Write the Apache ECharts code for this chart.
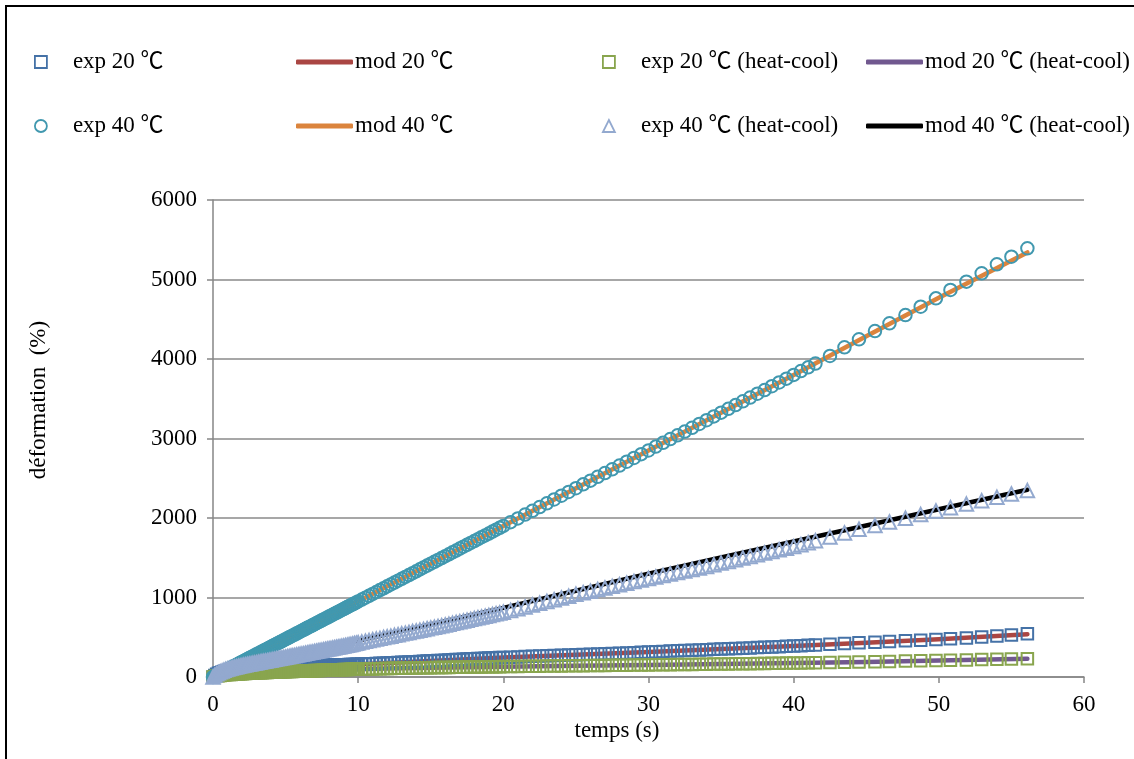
<!DOCTYPE html>
<html><head><meta charset="utf-8">
<script src="https://cdn.jsdelivr.net/npm/echarts@6/dist/echarts.min.js"></script>
<style>html,body{margin:0;padding:0;background:#fff}#c{width:1134px;height:759px}</style>
</head><body><div id="c"></div>
<script>
// time (s) of experimental samples
const T = [
0,0.125,0.25,0.375,0.5,0.625,0.75,0.875,1,1.125,
1.25,1.375,1.5,1.625,1.75,1.875,2,2.125,2.25,2.375,
2.5,2.625,2.75,2.875,3,3.125,3.25,3.375,3.5,3.625,
3.75,3.875,4,4.125,4.25,4.375,4.5,4.625,4.75,4.875,
5,5.125,5.25,5.375,5.5,5.625,5.75,5.875,6,6.125,
6.25,6.375,6.5,6.625,6.75,6.875,7,7.125,7.25,7.375,
7.5,7.625,7.75,7.875,8,8.125,8.25,8.375,8.5,8.625,
8.75,8.875,9,9.125,9.25,9.375,9.5,9.625,9.75,9.875,
10,10.25,10.5,10.75,11,11.25,11.5,11.75,12,12.25,
12.5,12.75,13,13.25,13.5,13.75,14,14.25,14.5,14.75,
15,15.25,15.5,15.75,16,16.25,16.5,16.75,17,17.25,
17.5,17.75,18,18.25,18.5,18.75,19,19.25,19.5,19.75,
20,20.5,21,21.5,22,22.5,23,23.5,24,24.5,
25,25.5,26,26.5,27,27.5,28,28.5,29,29.5,
30,30.5,31,31.5,32,32.5,33,33.5,34,34.5,
35,35.5,36,36.5,37,37.5,38,38.5,39,39.5,
40,40.5,41,41.5,42.5,43.5,44.5,45.6,46.6,47.7,
48.75,49.8,50.8,51.9,52.95,54,55,56.1];
const exp20 = [
0,20,35,46,55,62,68,73,78,82,
85,88,90,92,94,96,98,100,101,102,
103,105,106,107,108,109,110,111,112,113,
114,115,116,117,118,119,120,121,122,123,
124,125,126,127,128,129,130,131,132,133,
134,135,136,137,138,139,140,141,142,142,
143,144,145,146,147,148,149,149,150,151,
152,153,154,154,155,156,157,157,158,159,
160,162,164,166,168,170,172,174,176,178,
180,182,184,186,188,190,192,195,197,200,
202,204,207,209,212,214,216,219,221,223,
225,228,230,232,234,236,238,240,242,244,
246,250,253,257,260,263,267,270,274,277,
280,283,286,289,292,295,298,302,306,310,
314,318,322,326,330,334,337,341,344,348,
351,355,358,362,366,370,374,378,382,386,
390,394,398,402,412,422,430,438,446,455,
463,472,481,491,502,515,528,543];
const exp20hc = [
0,7,12,16,20,23,25,28,30,31,
33,35,36,38,39,41,42,43,45,46,
47,48,50,51,52,53,54,55,56,57,
58,59,60,61,62,63,64,64,65,66,
67,68,69,69,70,71,72,73,74,75,
76,76,77,78,79,80,81,82,83,83,
84,85,86,87,88,88,89,89,90,91,
92,92,93,93,94,95,96,96,97,97,
98,99,100,101,102,104,105,106,107,108,
109,110,111,111,112,113,114,115,116,116,
117,118,119,119,120,121,122,122,123,124,
125,125,126,127,127,128,129,129,130,130,
131,132,133,134,135,136,137,138,139,140,
142,143,144,145,146,147,148,149,150,151,
152,153,154,155,156,157,158,159,160,162,
163,164,166,167,168,170,171,172,173,175,
176,177,178,180,183,186,189,193,196,200,
204,208,211,215,219,223,226,230];
const exp40 = [
0,12,24,36,48,59,71,83,95,107,
119,131,143,154,166,178,190,202,214,226,
238,249,261,273,285,297,309,321,333,344,
356,368,380,392,404,416,428,439,451,463,
475,487,499,511,523,534,546,558,570,582,
594,606,618,629,641,653,665,677,689,701,
713,724,736,748,760,772,784,796,808,819,
831,843,855,867,879,891,903,914,926,938,
950,974,998,1021,1045,1069,1093,1116,1140,1164,
1188,1211,1235,1259,1283,1306,1330,1354,1378,1401,
1425,1449,1473,1496,1520,1544,1568,1591,1615,1639,
1663,1686,1710,1734,1758,1781,1805,1829,1853,1876,
1900,1948,1995,2043,2090,2138,2185,2233,2280,2328,
2375,2423,2470,2518,2565,2613,2660,2708,2755,2803,
2850,2898,2945,2993,3040,3088,3135,3183,3230,3278,
3325,3373,3420,3468,3515,3563,3610,3658,3705,3753,
3800,3848,3895,3943,4038,4147,4248,4352,4449,4553,
4658,4763,4868,4973,5078,5191,5287,5392];
const exp40hc = [
0,22,40,54,65,76,85,93,100,107,
113,119,125,130,135,140,145,150,154,159,
163,168,172,176,180,185,189,194,198,202,
206,211,215,220,224,229,233,237,241,246,
250,255,259,264,268,272,276,281,285,290,
294,299,303,307,311,316,320,325,329,334,
338,342,346,351,355,360,364,369,373,377,
381,386,390,395,400,405,410,415,420,425,
430,439,449,458,468,477,486,496,505,514,
524,533,543,552,561,571,580,589,599,608,
618,627,636,646,655,665,675,685,695,705,
715,725,735,745,755,765,775,785,795,805,
815,837,860,882,905,927,950,972,995,1017,
1040,1060,1080,1100,1120,1140,1160,1180,1200,1220,
1240,1259,1278,1297,1316,1334,1352,1370,1391,1412,
1433,1454,1475,1496,1517,1538,1559,1580,1600,1620,
1640,1665,1690,1715,1760,1812,1858,1905,1950,1997,
2043,2088,2130,2175,2218,2260,2302,2345];
// model curves
const TM = [0,0.25,0.5,1,1.5,2,3,4,6,8,10,12,15,20,25,30,35,40,45,50,56.1];
const mod20   = [0,30,50,72,85,95,107,116,132,147,160,176,202,246,280,314,351,390,432,474,538];
const mod20hc = [0,10,18,28,35,41,51,59,73,87,97,106,117,130,141,151,162,175,190,209,229];
const mod40   = [0,24,48,95,143,190,285,380,570,760,950,1140,1425,1900,2375,2850,3325,3800,4285,4770,5340];
const mod40hc = [0,45,72,110,135,157,195,232,305,380,458,538,660,870,1085,1300,1505,1705,1905,2110,2355];

const names = ['exp 20 ℃','mod 20 ℃','exp 20 ℃ (heat-cool)','mod 20 ℃ (heat-cool)',
               'exp 40 ℃','mod 40 ℃','exp 40 ℃ (heat-cool)','mod 40 ℃ (heat-cool)'];
const xTicks = [0,10,20,30,40,50,60];
const yTicks = [0,1000,2000,3000,4000,5000,6000];
const xTitle = 'temps (s)';
const yTitle = 'déformation  (%)';

const FONT = "'Liberation Serif','Noto Sans CJK SC',serif";
const FS = 23;
const C = {e20:'#4572A7', m20:'#AA4643', e20h:'#89A54E', m20h:'#71588F',
           e40:'#4198AF', m40:'#DB843D', e40h:'#93A9CF', m40h:'#000000'};

const zip = (xs, ys) => xs.map((x, i) => [x, ys[i]]);

function lineS(name, xs, ys, color) {
  return {name, type:'line', data: zip(xs, ys), showSymbol:false, symbol:'none', clip:false,
    z:2, silent:true, animation:false, itemStyle:{color},
    lineStyle:{color, width:4.5, cap:'round', join:'round'}};
}
function scatS(name, ys, color, symbol, size) {
  return {name, type:'scatter', data: zip(T, ys), symbol, symbolSize:size, z:3, silent:true,
    animation:false, clip:false,
    itemStyle:{color:'rgba(0,0,0,0)', borderColor:color, borderWidth:2, opacity:1}};
}

function legendExp(name, color, icon, left, top, pad) {
  return {show:true, selectedMode:false, padding:0, left, top, itemWidth:12, itemHeight:12,
    data:[{name, icon, itemStyle:{color:'rgba(0,0,0,0)', borderColor:color, borderWidth:1.8}}],
    textStyle:{fontFamily:FONT, fontSize:FS, color:'#000', lineHeight:24, padding:[0,0,0,pad]}};
}
function legendMod(name, color, left, top, w) {
  return {show:true, selectedMode:false, padding:0, left, top, itemWidth:w, itemHeight:5,
    data:[{name, icon:'roundRect', itemStyle:{color, borderWidth:0}}],
    textStyle:{fontFamily:FONT, fontSize:FS, color:'#000', lineHeight:24, padding:[0,0,0,-3]}};
}
const r1 = 50, r2 = 114;

const chart = echarts.init(document.getElementById('c'), null, {renderer:'canvas'});
chart.setOption({
  backgroundColor:'#fff',
  animation:false,
  grid:{left:213, right:50, top:200, bottom:82, containLabel:false},
  xAxis:{type:'value', min:xTicks[0], max:xTicks[xTicks.length-1], interval:xTicks[1]-xTicks[0],
    axisLine:{show:true, onZero:false, lineStyle:{color:'#868686', width:1.5}},
    axisTick:{show:true, length:6, lineStyle:{color:'#868686', width:1.5}},
    splitLine:{show:false},
    axisLabel:{color:'#000', fontFamily:FONT, fontSize:FS, margin:16, formatter:v => String(v)}},
  yAxis:{type:'value', min:yTicks[0], max:yTicks[yTicks.length-1], interval:yTicks[1]-yTicks[0],
    axisLine:{show:true, lineStyle:{color:'#868686', width:1.5}},
    axisTick:{show:true, length:6, lineStyle:{color:'#868686', width:1.5}},
    splitLine:{show:true, lineStyle:{color:'#8a8a8a', width:1.6}},
    axisLabel:{color:'#000', fontFamily:FONT, fontSize:FS, margin:16, formatter:v => String(v)}},
  legend:[
    legendExp(names[0], C.e20, 'rect', 34, r1, 21),
    legendMod(names[1], C.m20, 296, r1, 57),
    legendExp(names[2], C.e20h, 'rect', 602, r1, 21),
    legendMod(names[3], C.m20h, 866, r1, 57),
    legendExp(names[4], C.e40, 'circle', 34, r2, 21),
    legendMod(names[5], C.m40, 296, r2, 57),
    legendExp(names[6], C.e40h, 'triangle', 602, r2, 21),
    legendMod(names[7], C.m40h, 866, r2, 57)
  ],
  graphic:[
    {type:'polyline', silent:true, shape:{points:[[6,770],[6,6],[1140,6]]},
     style:{fill:'none', stroke:'#000', lineWidth:2}},
    {type:'text', silent:true, x:617, y:731,
     style:{text:xTitle, font:FS+'px '+FONT, fill:'#000', textAlign:'center', textVerticalAlign:'middle'}},
    {type:'text', silent:true, x:39, y:400, rotation:Math.PI/2,
     style:{text:yTitle, font:FS+'px '+FONT, fill:'#000', textAlign:'center', textVerticalAlign:'middle'}}
  ],
  series:[
    lineS(names[1], TM, mod20, C.m20),
    lineS(names[3], TM, mod20hc, C.m20h),
    lineS(names[5], TM, mod40, C.m40),
    lineS(names[7], TM, mod40hc, C.m40h),
    scatS(names[0], exp20, C.e20, 'rect', 11.5),
    scatS(names[2], exp20hc, C.e20h, 'rect', 11.5),
    scatS(names[4], exp40, C.e40, 'circle', 12.5),
    scatS(names[6], exp40hc, C.e40h, 'triangle', 13.5)
  ]
});
</script></body></html>
